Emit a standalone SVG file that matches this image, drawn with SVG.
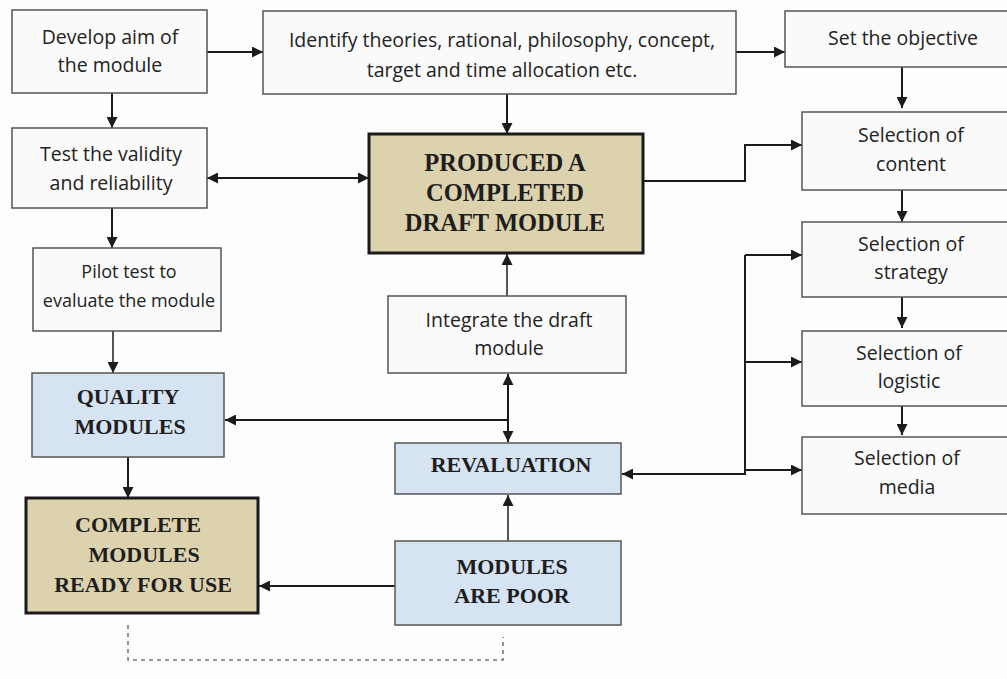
<svg xmlns="http://www.w3.org/2000/svg" width="1007" height="679" viewBox="0 0 1007 679">
<defs>
<marker id="ah" viewBox="0 0 10 10" refX="10" refY="5" markerWidth="11" markerHeight="11" markerUnits="userSpaceOnUse" orient="auto-start-reverse">
<path d="M0,0 L10,5 L0,10 z" fill="#1c1c1c"/>
</marker>
<style>
.n{fill:#fafafa;stroke:#555;stroke-width:1.5}
.t{fill:#dcd2ad;stroke:#1a1a1a;stroke-width:3}
.b{fill:#d5e3f2;stroke:#555;stroke-width:1.5}
.s{font-family:"Open Sans","Noto Sans",sans-serif;font-size:19.5px;fill:#222;text-anchor:middle}
.f{font-family:"Liberation Serif","Times New Roman",serif;font-weight:bold;font-size:22px;fill:#1e1e1e;text-anchor:middle}
.c{fill:none;stroke:#1c1c1c;stroke-width:2}
.d{fill:none;stroke:#777;stroke-width:1.6;stroke-dasharray:4 4}
</style>
</defs>
<rect width="1007" height="679" fill="#fdfdfd"/>
<g id="connectors">
<path class="c" d="M207,52 H263" marker-end="url(#ah)"/>
<path class="c" d="M735,52 H785" marker-end="url(#ah)"/>
<path class="c" d="M112,93 V128" marker-end="url(#ah)"/>
<path class="c" d="M507,94 V134" marker-end="url(#ah)"/>
<path class="c" d="M207,178 H369" marker-start="url(#ah)" marker-end="url(#ah)"/>
<path class="c" d="M902,67 V108" marker-end="url(#ah)"/>
<path class="c" d="M643,181 H745 V145 H802" marker-end="url(#ah)"/>
<path class="c" d="M902,190 V222" marker-end="url(#ah)"/>
<path class="c" d="M902,297 V328" marker-end="url(#ah)"/>
<path class="c" d="M902,406 V435" marker-end="url(#ah)"/>
<path class="c" d="M112,208 V248" marker-end="url(#ah)"/>
<path class="c" style="stroke-width:1.5" d="M113,331 V373" marker-end="url(#ah)"/>
<path class="c" style="stroke-width:1.5" d="M507,296 V254" marker-end="url(#ah)"/>
<path class="c" d="M128,457 V498" marker-end="url(#ah)"/>
<path class="c" d="M508,374 V442" marker-start="url(#ah)" marker-end="url(#ah)"/>
<path class="c" d="M508,420 H225" marker-end="url(#ah)"/>
<path class="c" d="M745,255 V474 H622" marker-end="url(#ah)"/>
<path class="c" d="M745,255 H802" marker-end="url(#ah)"/>
<path class="c" d="M745,362 H802" marker-end="url(#ah)"/>
<path class="c" d="M745,470 H802" marker-end="url(#ah)"/>
<path class="c" style="stroke-width:1.5" d="M508,541 V495" marker-end="url(#ah)"/>
<path class="c" d="M395,586 H259" marker-end="url(#ah)"/>
<path class="d" d="M128,625 V660 H503 V637"/>
</g>
<g id="develop-aim">
<rect class="n" x="12" y="10" width="195" height="83"/>
<text class="s" x="110" y="44">Develop aim of</text>
<text class="s" x="110" y="72">the module</text>
</g>
<g id="identify">
<rect class="n" x="263" y="11" width="473" height="83"/>
<text class="s" x="502" y="47">Identify theories, rational, philosophy, concept,</text>
<text class="s" x="502" y="77">target and time allocation etc.</text>
</g>
<g id="set-objective">
<rect class="n" x="785" y="11" width="230" height="56"/>
<text class="s" x="903" y="45">Set the objective</text>
</g>
<g id="test-validity">
<rect class="n" x="12" y="128" width="195" height="80"/>
<text class="s" x="111" y="161">Test the validity</text>
<text class="s" x="111" y="190">and reliability</text>
</g>
<g id="produced-draft">
<rect class="t" x="369" y="134" width="274" height="119"/>
<text class="f" style="font-size:24.5px" x="505" y="171">PRODUCED A</text>
<text class="f" style="font-size:24.5px" x="505" y="201">COMPLETED</text>
<text class="f" style="font-size:24.5px" x="505" y="231">DRAFT MODULE</text>
</g>
<g id="pilot-test">
<rect class="n" x="33" y="248" width="188" height="83"/>
<text class="s" style="font-size:18px" x="129" y="278">Pilot test to</text>
<text class="s" style="font-size:18px" x="129" y="307">evaluate the module</text>
</g>
<g id="selection-content">
<rect class="n" x="802" y="112" width="215" height="78"/>
<text class="s" x="911" y="142">Selection of</text>
<text class="s" x="911" y="171">content</text>
</g>
<g id="selection-strategy">
<rect class="n" x="802" y="222" width="215" height="75"/>
<text class="s" x="911" y="251">Selection of</text>
<text class="s" x="911" y="279">strategy</text>
</g>
<g id="selection-logistic">
<rect class="n" x="802" y="331" width="215" height="75"/>
<text class="s" x="909" y="360">Selection of</text>
<text class="s" x="909" y="388">logistic</text>
</g>
<g id="selection-media">
<rect class="n" x="802" y="437" width="215" height="77"/>
<text class="s" x="907" y="465">Selection of</text>
<text class="s" x="907" y="494">media</text>
</g>
<g id="integrate">
<rect class="n" x="388" y="296" width="238" height="77"/>
<text class="s" x="509" y="327">Integrate the draft</text>
<text class="s" x="509" y="355">module</text>
</g>
<g id="quality-modules">
<rect class="b" x="32" y="373" width="192" height="84"/>
<text class="f" x="128" y="404">QUALITY</text>
<text class="f" x="130" y="434">MODULES</text>
</g>
<g id="revaluation">
<rect class="b" x="395" y="443" width="226" height="51"/>
<text class="f" x="511" y="472">REVALUATION</text>
</g>
<g id="complete-modules">
<rect class="t" x="26" y="498" width="232" height="115"/>
<text class="f" x="138" y="532">COMPLETE</text>
<text class="f" x="144" y="562">MODULES</text>
<text class="f" x="143" y="592">READY FOR USE</text>
</g>
<g id="modules-poor">
<rect class="b" x="395" y="541" width="226" height="84"/>
<text class="f" x="512" y="574">MODULES</text>
<text class="f" x="512" y="603">ARE POOR</text>
</g>
</svg>
